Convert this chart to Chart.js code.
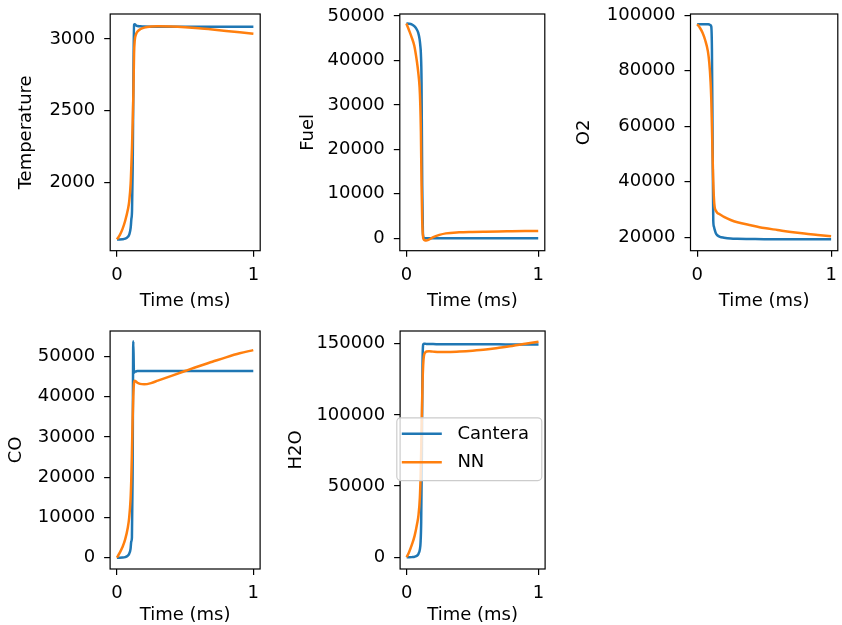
<!DOCTYPE html>
<html>
<head>
<meta charset="utf-8">
<script src="https://cdn.jsdelivr.net/npm/chart.js@4.4.0/dist/chart.umd.min.js"></script>
<style>
  body { margin: 0; background: #fff; width: 842px; height: 625px; position: relative; overflow: hidden; }
  canvas { position: absolute; }
</style>
</head>
<body>
<script>
// time axis (ms), shared by every series
const time = [0, 0.02, 0.04, 0.06, 0.08, 0.09, 0.10, 0.105, 0.11, 0.115, 0.12, 0.125, 0.13, 0.14, 0.15, 0.17, 0.2, 0.25, 0.3, 0.4, 0.5, 0.6, 0.7, 0.8, 0.9, 1.0]
const xTicks = [0, 1]

const tempCantera = [1600, 1600, 1601, 1605, 1618, 1635, 1680, 1740, 1800, 2100, 2700, 3100, 3103, 3095, 3091, 3089, 3087, 3086, 3086, 3086, 3086, 3086, 3086, 3086, 3086, 3086]
const tempNN      = [1600, 1630, 1672, 1730, 1810, 1870, 1990, 2110, 2250, 2420, 2620, 2900, 2990, 3035, 3052, 3068, 3080, 3088, 3090, 3088, 3083, 3076, 3067, 3057, 3047, 3037]
const tempTicks = [2000, 2500, 3000]

const fuelCantera = [48300, 48250, 48100, 47700, 46900, 46200, 44800, 43500, 41500, 35000, 12000, 1500, 200, 20, 0, 0, 0, 0, 0, 0, 0, 0, 0, 0, 0, 0]
const fuelNN      = [48300, 46800, 45200, 43300, 39700, 37300, 34000, 30500, 24000, 12000, 4000, 800, -200, -450, -500, -300, 200, 750, 1100, 1330, 1420, 1480, 1530, 1570, 1610, 1650]
const fuelTicks = [0, 10000, 20000, 30000, 40000, 50000]

const o2Cantera = [96800, 96800, 96800, 96780, 96750, 96700, 96400, 96000, 88000, 55000, 26000, 23800, 22800, 21300, 20700, 20100, 19800, 19500, 19400, 19350, 19300, 19300, 19300, 19300, 19300, 19300]
const o2NN      = [96800, 95500, 93700, 91000, 87000, 83000, 76000, 70000, 60000, 49000, 40000, 34000, 31000, 29500, 28800, 28200, 27300, 26200, 25400, 24300, 23300, 22600, 21900, 21300, 20800, 20300]
const o2Ticks = [20000, 40000, 60000, 80000, 100000]

const coCantera = [0, 0, 30, 150, 500, 1000, 2200, 4000, 5000, 20000, 53800, 46000, 46200, 46300, 46400, 46400, 46400, 46400, 46400, 46400, 46400, 46400, 46400, 46400, 46400, 46400]
const coNN      = [0, 1200, 2600, 4500, 7500, 10000, 14500, 19000, 26000, 34000, 40000, 43300, 44000, 43800, 43500, 43200, 43100, 43400, 44000, 45200, 46400, 47600, 48700, 49800, 50800, 51600]
const coTicks = [0, 10000, 20000, 30000, 40000, 50000]

const h2oCantera = [0, 0, 50, 300, 1200, 2500, 5500, 10000, 25000, 70000, 135000, 149500, 150000, 150000, 149900, 149800, 149800, 149700, 149700, 149700, 149600, 149600, 149600, 149500, 149500, 149500]
const h2oNN      = [0, 4000, 9000, 15000, 24000, 30000, 42000, 55000, 75000, 100000, 122000, 135000, 141000, 143800, 144600, 144800, 144500, 144200, 144200, 144600, 145200, 146000, 147200, 148500, 150000, 151500]
const h2oTicks = [0, 50000, 100000, 150000]

const seriesNames = ['Cantera', 'NN']
const seriesColors = ['#1f77b4', '#ff7f0e']

Chart.defaults.font.family = 'DejaVu Sans'
Chart.defaults.font.size = 18
Chart.defaults.color = '#000'

// box = [left, top, right, bottom] of the axes frame, ytx = y title centre, xty = x title centre
const panels = [
  {label: 'Temperature', a: tempCantera, b: tempNN, ticks: tempTicks, min: 1521, max: 3175, box: [110, 14, 260, 250.5], ytx: 26.6, xty: 301},
  {label: 'Fuel', a: fuelCantera, b: fuelNN, ticks: fuelTicks, min: -2800, max: 50450, box: [400, 14, 545, 250.5], ytx: 309, xty: 301},
  {label: 'O2', a: o2Cantera, b: o2NN, ticks: o2Ticks, min: 15130, max: 100470, box: [690.7, 14, 838, 250.5], ytx: 585, xty: 301},
  {label: 'CO', a: coCantera, b: coNN, ticks: coTicks, min: -2800, max: 56350, box: [110, 330.7, 260, 568.3], ytx: 16.7, xty: 614.5},
  {label: 'H2O', a: h2oCantera, b: h2oNN, ticks: h2oTicks, min: -8300, max: 159000, box: [400, 330.7, 545, 568.3], ytx: 296.7, xty: 614.5, legend: true}
]

const frame = {
  id: 'frame',
  afterDatasetsDraw(chart) {
    const a = chart.chartArea, ctx = chart.ctx
    ctx.save()
    ctx.strokeStyle = '#000'
    ctx.lineWidth = 1.2
    ctx.strokeRect(a.left, a.top, a.right - a.left, a.bottom - a.top)
    ctx.restore()
  }
}

const boxLegend = {
  id: 'boxLegend',
  afterDraw(chart, args, opts) {
    if (!opts.show) return
    const ctx = chart.ctx, a = chart.chartArea
    const w = 145, h = 62.7, r = 4
    const x = a.left - 3.3, y = (a.top + a.bottom) / 2 - h / 2 - 0.8
    ctx.save()
    ctx.beginPath()
    ctx.moveTo(x + r, y)
    ctx.arcTo(x + w, y, x + w, y + h, r)
    ctx.arcTo(x + w, y + h, x, y + h, r)
    ctx.arcTo(x, y + h, x, y, r)
    ctx.arcTo(x, y, x + w, y, r)
    ctx.closePath()
    ctx.fillStyle = 'rgba(255,255,255,0.8)'
    ctx.fill()
    ctx.strokeStyle = '#cccccc'
    ctx.lineWidth = 1.2
    ctx.stroke()
    ctx.font = '18px "DejaVu Sans"'
    ctx.textBaseline = 'middle'
    ctx.fillStyle = '#000'
    chart.data.datasets.forEach((ds, i) => {
      const cy = y + 16 + i * 28.4
      ctx.strokeStyle = ds.borderColor
      ctx.lineWidth = 2.5
      ctx.beginPath()
      ctx.moveTo(x + 5, cy)
      ctx.lineTo(x + 45, cy)
      ctx.stroke()
      ctx.fillText(ds.label, x + 60.6, cy)
    })
    ctx.restore()
  }
}

function points(vals) {
  return time.map((t, i) => ({x: t, y: vals[i]}))
}

function makePanel(p) {
  const [bl, bt, br, bb] = p.box
  const padTop = 22, padRight = 12
  const left = p.ytx - 10.8
  const top = bt - padTop
  const bottom = p.xty + 10.8
  const cv = document.createElement('canvas')
  cv.width = Math.round(br + padRight - left)
  cv.height = Math.round(bottom - top)
  cv.style.left = left + 'px'
  cv.style.top = top + 'px'
  document.body.appendChild(cv)

  new Chart(cv, {
    type: 'line',
    data: {
      datasets: [p.a, p.b].map((vals, i) => ({
        label: seriesNames[i],
        data: points(vals),
        borderColor: seriesColors[i],
        backgroundColor: seriesColors[i],
        borderWidth: 2.5,
        pointRadius: 0,
        fill: false,
        cubicInterpolationMode: 'monotone',
        order: 1 - i
      }))
    },
    options: {
      responsive: false,
      animation: false,
      layout: {padding: {top: padTop, right: cv.width - (br - left), left: 0, bottom: 0}},
      plugins: {
        legend: {display: false},
        tooltip: {enabled: false},
        boxLegend: {show: !!p.legend}
      },
      scales: {
        x: {
          type: 'linear',
          min: -0.05,
          max: 1.05,
          afterBuildTicks: s => { s.ticks = xTicks.map(v => ({value: v})) },
          afterFit: s => { s.height = bottom - bb },
          ticks: {padding: 8, autoSkip: false, maxRotation: 0, callback: v => String(v)},
          grid: {drawOnChartArea: false, tickLength: 6, color: '#000', lineWidth: 1.2},
          border: {display: false},
          title: {display: true, text: 'Time (ms)', padding: 0}
        },
        y: {
          type: 'linear',
          min: p.min,
          max: p.max,
          afterBuildTicks: s => { s.ticks = p.ticks.map(v => ({value: v})) },
          afterFit: s => { s.width = bl - left },
          ticks: {padding: 9, autoSkip: false, callback: v => String(v)},
          grid: {drawOnChartArea: false, tickLength: 6, color: '#000', lineWidth: 1.2},
          border: {display: false},
          title: {display: true, text: p.label, padding: 0}
        }
      }
    },
    plugins: [frame, boxLegend]
  })
}

panels.forEach(makePanel)
</script>
</body>
</html>
